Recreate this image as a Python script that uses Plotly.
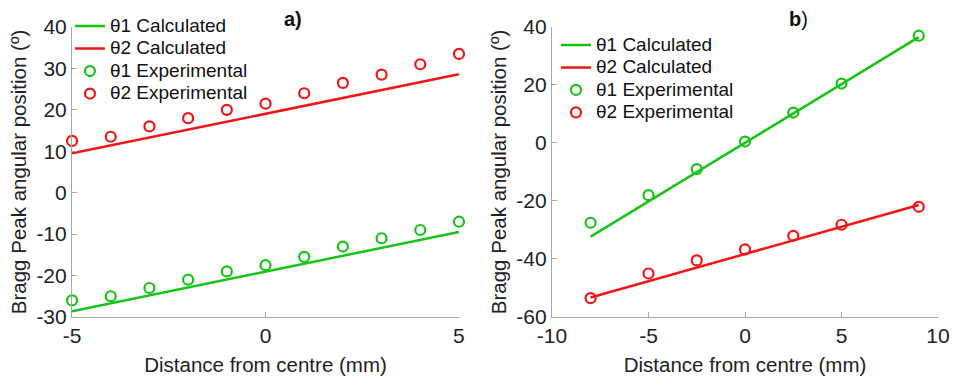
import plotly.graph_objects as go

# Panel a: positions across ±5 mm
dist_a = [-5, -4, -3, -2, -1, 0, 1, 2, 3, 4, 5]
theta1_calc_a = [-28.6, -26.7, -24.8, -22.9, -21.0, -19.1, -17.2, -15.3, -13.3, -11.4, -9.5]
theta2_calc_a = [9.5, 11.4, 13.3, 15.3, 17.2, 19.1, 21.0, 22.9, 24.8, 26.7, 28.6]
theta1_exp_a = [-26, -25, -23, -21, -19, -17.5, -15.5, -13, -11, -9, -7]
theta2_exp_a = [12.5, 13.5, 16, 18, 20, 21.5, 24, 26.5, 28.5, 31, 33.5]

# Panel b: positions across -8 .. 9 mm
dist_b = [-8, -5, -2.5, 0, 2.5, 5, 9]
theta1_calc_b = [-32.3, -20.2, -10.1, 0.0, 10.1, 20.2, 36.5]
theta2_calc_b = [-53.3, -47.7, -43.0, -38.3, -33.6, -28.9, -21.4]
theta1_exp_b = [-27.5, -18, -9, 0.5, 10.5, 20.5, 37]
theta2_exp_b = [-53.5, -45, -40.5, -36.7, -32, -28.2, -22]

# Tick positions and their labels (plain hyphen minus)
xticks_a = [-5, 0, 5]
xlabels_a = ["-5", "0", "5"]
yticks_a = [-30, -20, -10, 0, 10, 20, 30, 40]
ylabels_a = ["-30", "-20", "-10", "0", "10", "20", "30", "40"]
xticks_b = [-10, -5, 0, 5, 10]
xlabels_b = ["-10", "-5", "0", "5", "10"]
yticks_b = [-60, -40, -20, 0, 20, 40]
ylabels_b = ["-60", "-40", "-20", "0", "20", "40"]

GREEN = "#16c416"
RED = "#f21515"
AXIS = "#a6a6a6"
FONT = "Liberation Sans, Arial, Helvetica, sans-serif"


def entry(label):
    # larger text inside a compact legend row
    return f'<span style="font-size:19px">{label}</span>'


fig = go.Figure()


def add_panel(x, c1, c2, e1, e2, xa, ya, legend):
    common = dict(xaxis=xa, yaxis=ya, legend=legend)
    fig.add_trace(go.Scatter(x=x, y=c1, mode="lines", name=entry("θ1 Calculated"),
                             line=dict(color=GREEN, width=2.5), **common))
    fig.add_trace(go.Scatter(x=x, y=c2, mode="lines", name=entry("θ2 Calculated"),
                             line=dict(color=RED, width=2.5), **common))
    fig.add_trace(go.Scatter(x=x, y=e1, mode="markers", name=entry("θ1 Experimental"),
                             marker=dict(symbol="circle-open", size=10, color=GREEN,
                                         line=dict(width=2.2, color=GREEN)),
                             cliponaxis=False, **common))
    fig.add_trace(go.Scatter(x=x, y=e2, mode="markers", name=entry("θ2 Experimental"),
                             marker=dict(symbol="circle-open", size=10, color=RED,
                                         line=dict(width=2.2, color=RED)),
                             cliponaxis=False, **common))


add_panel(dist_a, theta1_calc_a, theta2_calc_a, theta1_exp_a, theta2_exp_a, "x", "y", "legend")
add_panel(dist_b, theta1_calc_b, theta2_calc_b, theta1_exp_b, theta2_exp_b, "x2", "y2", "legend2")

axis_style = dict(showline=True, linecolor=AXIS, linewidth=1.2, ticks="inside",
                  ticklen=5, tickcolor=AXIS, tickwidth=1.2, showgrid=False,
                  zeroline=False, automargin=False, tickmode="array",
                  tickfont=dict(size=21, color="#222222", family=FONT),
                  title_font=dict(size=20.5, color="#222222", family=FONT))

ytitle = "Bragg Peak angular position (º)"
xtitle = "Distance from centre (mm)"

legend_style = dict(font=dict(size=15, color="#111111", family=FONT),
                    bgcolor="rgba(0,0,0,0)", tracegroupgap=0,
                    xanchor="left", yanchor="top", itemwidth=30)

fig.update_layout(
    width=953, height=377,
    margin=dict(l=0, r=0, t=0, b=0),
    paper_bgcolor="white", plot_bgcolor="white",
    font=dict(family=FONT),
    xaxis=dict(domain=[0.0756, 0.4816], range=[-5, 5], tickvals=xticks_a, ticktext=xlabels_a,
               title=dict(text=xtitle, standoff=11), anchor="y", **axis_style),
    yaxis=dict(domain=[0.1592, 0.9284], range=[-30, 40], tickvals=yticks_a, ticktext=ylabels_a,
               title=dict(text=ytitle, standoff=4), anchor="x", **axis_style),
    xaxis2=dict(domain=[0.5792, 0.9843], range=[-10, 10], tickvals=xticks_b, ticktext=xlabels_b,
                title=dict(text=xtitle, standoff=11), anchor="y2", **axis_style),
    yaxis2=dict(domain=[0.1592, 0.9284], range=[-60, 40], tickvals=yticks_b, ticktext=ylabels_b,
                title=dict(text=ytitle, standoff=4), anchor="x2", **axis_style),
    legend=dict(x=0.0734, y=0.974, **legend_style),
    legend2=dict(x=0.5834, y=0.924, **legend_style),
    showlegend=True,
    annotations=[
        dict(text="<b>a)</b>", x=0.3075, y=0.9496, xref="paper", yref="paper",
             xanchor="center", yanchor="middle", showarrow=False,
             font=dict(size=20, color="#111111", family=FONT)),
        dict(text="<b>b</b>)", x=0.8375, y=0.9496, xref="paper", yref="paper",
             xanchor="center", yanchor="middle", showarrow=False,
             font=dict(size=20, color="#111111", family=FONT)),
    ],
)

fig.write_html("out.html")
